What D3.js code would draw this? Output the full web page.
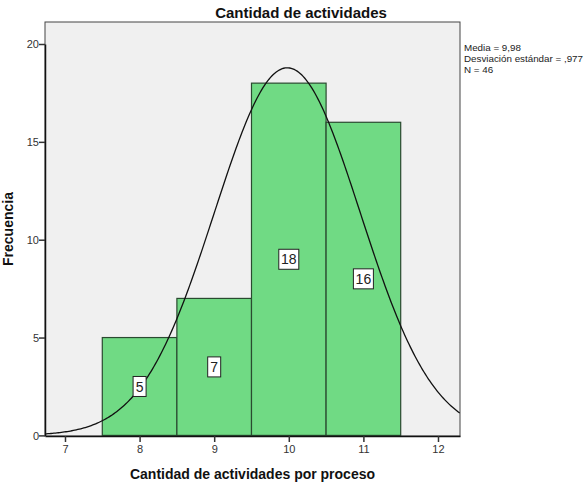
<!DOCTYPE html>
<html>
<head>
<meta charset="utf-8">
<script src="https://cdn.jsdelivr.net/npm/d3@7"></script>
<style>
  body { margin: 0; background: #fff; }
  svg { font-family: Arial, "Liberation Sans", sans-serif; }
</style>
</head>
<body>
<svg id="chart" width="584" height="486"></svg>
<script>
// histogram bins (class centre, count)
const binCenters = [8, 9, 10, 11];
const counts = [5, 7, 18, 16];
const xTicks = [7, 8, 9, 10, 11, 12];
const yTicks = [0, 5, 10, 15, 20];
const statsLines = ["Media = 9,98", "Desviación estándar = ,977", "N = 46"];
const mean = 9.98, sd = 0.977, n = 46;

// plot box
const margin = {top: 22, right: 124, bottom: 50, left: 45};
const width = 584 - margin.left - margin.right;
const height = 486 - margin.top - margin.bottom;

const svg = d3.select("#chart");

const x = d3.scaleLinear().domain([6.732, 12.295]).range([0, width]);
const y = d3.scaleLinear().domain([0, 20]).range([height - 0.6, 22]);

const chart = svg.append("g")
    .attr("transform", "translate(" + margin.left + "," + margin.top + ")");

// background
chart.append("rect")
    .attr("width", width).attr("height", height)
    .attr("fill", "#f0f0f0")
    .attr("stroke", "#444").attr("stroke-width", 1);

// bars
chart.selectAll(".bar")
    .data(binCenters)
    .enter().append("rect")
    .attr("x", (d) => x(d - 0.5))
    .attr("y", (d, i) => y(counts[i]))
    .attr("width", (d) => x(d + 0.5) - x(d - 0.5))
    .attr("height", (d, i) => y(0) - y(counts[i]))
    .attr("fill", "#70da84")
    .attr("stroke", "#2a4a30")
    .attr("stroke-width", 1.2);

// normal curve from the reported mean / sd / N
chart.append("clipPath").attr("id", "plotclip")
    .append("rect").attr("width", width).attr("height", height);
const curveX = d3.range(x.domain()[0], x.domain()[1] + 0.01, 0.02);
const normal = (v) => n / (sd * Math.sqrt(2 * Math.PI)) * Math.exp(-0.5 * Math.pow((v - mean) / sd, 2));
chart.append("path")
    .datum(curveX)
    .attr("clip-path", "url(#plotclip)")
    .attr("fill", "none")
    .attr("stroke", "#111")
    .attr("stroke-width", 1.3)
    .attr("d", d3.line().x((d) => x(d)).y((d) => y(normal(d))));

// value labels
const labels = chart.selectAll(".lbl")
    .data(binCenters)
    .enter().append("g")
    .attr("transform", (d, i) => "translate(" + x(d) + "," + y(counts[i] / 2) + ")");
labels.append("rect")
    .attr("x", (d, i) => counts[i] >= 10 ? -10 : -6.5)
    .attr("y", -10)
    .attr("width", (d, i) => counts[i] >= 10 ? 20 : 13)
    .attr("height", 20)
    .attr("fill", "#fff")
    .attr("stroke", "#222");
labels.append("text")
    .attr("text-anchor", "middle")
    .attr("dy", "0.36em")
    .attr("font-size", 14)
    .attr("fill", "#222")
    .text((d, i) => counts[i]);

// axes
const xAxis = chart.append("g")
    .attr("transform", "translate(0," + height + ")")
    .call(d3.axisBottom(x).tickValues(xTicks).tickFormat(d3.format("d")).tickSize(6).tickSizeOuter(0));
const yAxis = chart.append("g")
    .call(d3.axisLeft(y).tickValues(yTicks).tickFormat(d3.format("d")).tickSize(6).tickSizeOuter(0));
[xAxis, yAxis].forEach((a) => {
    a.select(".domain").attr("stroke", "#111").attr("stroke-width", 1.5);
    a.selectAll(".tick line").attr("stroke", "#333").attr("stroke-width", 1.5);
    a.selectAll(".tick text").attr("font-size", 11).attr("fill", "#333")
        .attr("font-family", "Arial, 'Liberation Sans', sans-serif");
});
yAxis.selectAll(".tick text").attr("x", -6).attr("dy", "0.35em");

// titles
svg.append("text")
    .attr("x", 301).attr("y", 18)
    .attr("text-anchor", "middle")
    .attr("font-size", 15).attr("font-weight", "bold").attr("fill", "#111")
    .text("Cantidad de actividades");

svg.append("text")
    .attr("x", margin.left + width / 2).attr("y", 479)
    .attr("text-anchor", "middle")
    .attr("font-size", 14).attr("font-weight", "bold").attr("fill", "#111")
    .text("Cantidad de actividades por proceso");

svg.append("text")
    .attr("transform", "translate(13," + (margin.top + height / 2) + ") rotate(-90)")
    .attr("text-anchor", "middle")
    .attr("font-size", 14).attr("font-weight", "bold").attr("fill", "#111")
    .text("Frecuencia");

// stats text
svg.append("g").selectAll("text")
    .data(statsLines)
    .enter().append("text")
    .attr("x", 464)
    .attr("y", (d, i) => 51 + i * 11)
    .attr("font-size", 9.8).attr("fill", "#222")
    .text((d) => d);
</script>
</body>
</html>
